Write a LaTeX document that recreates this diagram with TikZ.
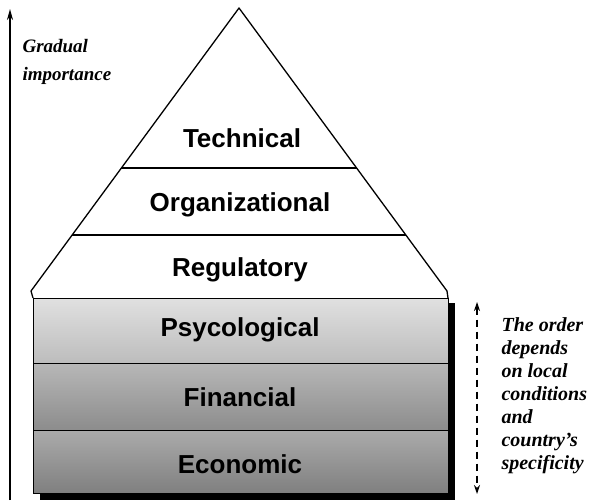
\documentclass[tikz,border=0pt]{standalone}
\usepackage{fontspec}
\setmainfont{Liberation Serif}
\setsansfont{Liberation Sans}
\usetikzlibrary{arrows.meta}
\tikzset{
  layer/.style={font=\sffamily\bfseries\fontsize{26}{28}\selectfont},
  note/.style={font=\bfseries\itshape\fontsize{20}{23}\selectfont, align=left, anchor=north west},
}
\begin{document}
\begin{tikzpicture}[x=1pt,y=-1pt]
	\useasboundingbox (0,0) rectangle (599,501);
	
	% Define pyramid corners
	\coordinate (APEX) at (239,8);
	\coordinate (BL) at (33,298);
	\coordinate (BR) at (448,298);
	
	% Shadow of the base block
	\fill[black] (40,303) rectangle (455,500);
	
	% Base block bands
	\draw[line width=1pt, top color=black!12, bottom color=black!26] (33,298) rectangle (448,363);
	\draw[line width=1pt, top color=black!28, bottom color=black!45] (33,363) rectangle (448,430);
	\draw[line width=1pt, top color=black!33, bottom color=black!50] (33,430) rectangle (448,493);
	
	% Triangle part
	\draw[line width=1.3pt, line join=round] (BL) -- (31,291) -- (APEX) -- (447,291) -- (BR);
	\draw[line width=1.3pt] (121,168) -- (357,168);
	\draw[line width=1.3pt] (72,235) -- (406,235);
	
	% Layer labels
	\node[layer] (tech) at (242,138) {Technical};
	\node[layer] (org) at (240,205) {Organizational};
	\node[layer] (reg) at (240,270) {Regulatory};
	\node[layer] (psy) at (240,330) {Psycological};
	\node[layer] (fin) at (240,397) {Financial};
	\node[layer] (eco) at (240,464) {Economic};
	
	% Importance axis
	\coordinate (AXB) at (10,500);
	\coordinate (AXT) at (10,9);
	\draw[line width=1.5pt, -{Stealth[length=11pt,width=6pt]}] (AXB) -- (AXT);
	\node[note, font=\bfseries\itshape\fontsize{19}{28}\selectfont] (grad) at (19,36) {Gradual\\importance};
	
	% Order arrow and remark
	\coordinate (ORT) at (477,302);
	\coordinate (ORB) at (477,494);
	\draw[line width=1.2pt, dashed, dash pattern=on 7pt off 5pt, {Stealth[length=9pt,width=6pt]}-{Stealth[length=9pt,width=6pt]}] (ORT) -- (ORB);
	\node[note] (order) at (498,314) {The order\\depends\\on local\\conditions\\and\\country's\\specificity};
\end{tikzpicture}
\end{document}
